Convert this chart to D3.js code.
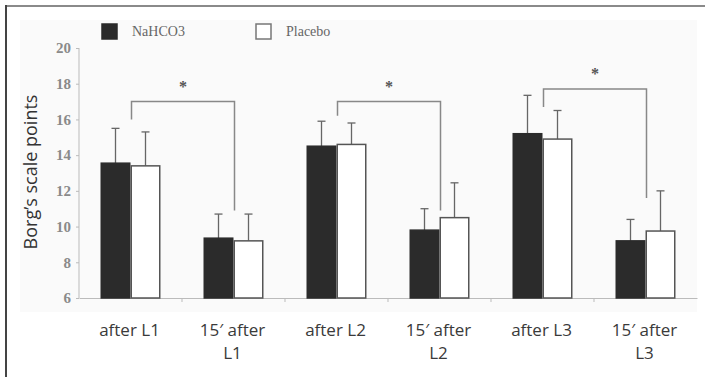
<!DOCTYPE html>
<html><head><meta charset="utf-8">
<script src="https://cdn.jsdelivr.net/npm/d3@7"></script>
<style>body{margin:0;background:#fff}svg{display:block}</style>
</head><body>
<script>
const categories = [["after L1"], ["15\u2032 after", "L1"], ["after L2"], ["15\u2032 after", "L2"], ["after L3"], ["15\u2032 after", "L3"]];
const seriesNames = ["NaHCO3", "Placebo"];
const nahco3Mean = [13.55, 9.35, 14.5, 9.8, 15.2, 9.2];
const nahco3Err  = [1.95, 1.35, 1.4, 1.2, 2.15, 1.2];
const placeboMean = [13.4, 9.2, 14.6, 10.5, 14.9, 9.75];
const placeboErr  = [1.9, 1.5, 1.2, 1.95, 1.6, 2.25];
const yTicks = [6, 8, 10, 12, 14, 16, 18, 20];
const brackets = [
  {a: 0, b: 1, level: 17.0, leftEnd: 16.0, rightEnd: 10.9},
  {a: 2, b: 3, level: 17.0, leftEnd: 16.2, rightEnd: 10.9},
  {a: 4, b: 5, level: 17.7, leftEnd: 16.7, rightEnd: 11.6}
];

const W = 705, H = 377;
const svg = d3.select("body").append("svg").attr("width", W).attr("height", H);

svg.append("rect").attr("x", 20).attr("y", 20).attr("width", 677).attr("height", 292).attr("fill", "#fafafa");
svg.append("line").attr("x1", 6).attr("x2", W).attr("y1", 6).attr("y2", 6).attr("stroke", "#8a8a8a").attr("stroke-width", 2);
svg.append("line").attr("x1", 6).attr("x2", 6).attr("y1", 5).attr("y2", H).attr("stroke", "#444").attr("stroke-width", 2);

const x0 = d3.scaleBand().domain(d3.range(categories.length)).range([79, 697]).paddingInner(0).paddingOuter(0);
const x1 = d3.scaleBand().domain([0, 1]).range([0, 60]);
const y = d3.scaleLinear().domain([6, 20]).range([298, 48]);

const yAxis = svg.append("g").attr("transform", "translate(79,0)")
  .call(d3.axisLeft(y).tickValues(yTicks).tickSize(3).tickPadding(5));
yAxis.attr("font-family", null).attr("font-size", null);
yAxis.select(".domain").attr("stroke", "#bbb").attr("d", `M0,${y(20)}V${y(6)}`);
yAxis.selectAll(".tick line").attr("stroke", "#bbb");
yAxis.selectAll("text").style("font-family", "'Liberation Serif', serif").style("font-size", "15px")
  .style("font-weight", "bold").attr("fill", "#8a8a8a");

const xAxis = svg.append("g").attr("transform", `translate(0,${y(6)})`)
  .call(d3.axisBottom(x0).tickSize(0).tickFormat(""));
xAxis.select(".domain").attr("stroke", "#bbb");
svg.selectAll(".sep").data(d3.range(1, categories.length)).enter().append("line")
  .attr("x1", d => x0(d)).attr("x2", d => x0(d)).attr("y1", y(6)).attr("y2", y(6) + 4).attr("stroke", "#bbb");

const catG = svg.selectAll(".cat").data(categories).enter().append("text")
  .attr("x", (d, i) => x0(i) + x0.bandwidth() / 2 - 1)
  .attr("y", 336).attr("text-anchor", "middle")
  .style("font-family", "'Open Sans', sans-serif").style("font-size", "17px").attr("fill", "#3a3a3a");
catG.selectAll("tspan").data(d => d).enter().append("tspan")
  .attr("x", function() { return d3.select(this.parentNode).attr("x"); })
  .attr("dy", (d, i) => i === 0 ? 0 : 23).text(d => d);

const series = [
  {mean: nahco3Mean, err: nahco3Err, fill: "#2b2b2b", stroke: "#2b2b2b"},
  {mean: placeboMean, err: placeboErr, fill: "#ffffff", stroke: "#555"}
];
const off = (x0.bandwidth() - 60) / 2;
series.forEach((s, si) => {
  const g = svg.append("g");
  s.mean.forEach((v, i) => {
    const bx = x0(i) + off + x1(si);
    const cx = bx + x1.bandwidth() / 2;
    g.append("line").attr("x1", cx).attr("x2", cx).attr("y1", y(v)).attr("y2", y(v + s.err[i])).attr("stroke", "#666").attr("stroke-width", 1.3);
    g.append("line").attr("x1", cx - 4).attr("x2", cx + 4).attr("y1", y(v + s.err[i])).attr("y2", y(v + s.err[i])).attr("stroke", "#666").attr("stroke-width", 1.3);
    g.append("rect").attr("x", bx + 0.75).attr("y", y(v)).attr("width", x1.bandwidth() - 1.5).attr("height", y(6) - y(v))
      .attr("fill", s.fill).attr("stroke", s.stroke).attr("stroke-width", 1.5);
  });
});

brackets.forEach(b => {
  const xa = x0(b.a) + x0.bandwidth() / 2 + 1;
  const xb = x0(b.b) + x0.bandwidth() / 2 + 1;
  svg.append("path")
    .attr("d", `M${xa},${y(b.leftEnd)}V${y(b.level)}H${xb}V${y(b.rightEnd)}`)
    .attr("fill", "none").attr("stroke", "#888").attr("stroke-width", 1.5);
  svg.append("text").attr("x", (xa + xb) / 2).attr("y", y(b.level) - 10).attr("text-anchor", "middle")
    .style("font-family", "'Liberation Serif', serif").style("font-size", "16px").style("font-weight", "bold").attr("fill", "#555").text("*");
});

const leg = svg.append("g");
const legX = [102, 256];
seriesNames.forEach((n, i) => {
  leg.append("rect").attr("x", legX[i]).attr("y", 24).attr("width", 15).attr("height", 15)
    .attr("fill", series[i].fill).attr("stroke", i === 0 ? "#2b2b2b" : "#777").attr("stroke-width", 1.5);
  leg.append("text").attr("x", legX[i] + 30).attr("y", 36).style("font-family", "'Liberation Serif', serif")
    .style("font-size", "14px").attr("fill", "#666").text(n);
});

svg.append("text").attr("transform", "translate(37,172) rotate(-90)").attr("text-anchor", "middle")
  .style("font-family", "'Open Sans', sans-serif").style("font-size", "18px").attr("fill", "#333")
  .text("Borg\u2019s scale points");
</script>
</body></html>
